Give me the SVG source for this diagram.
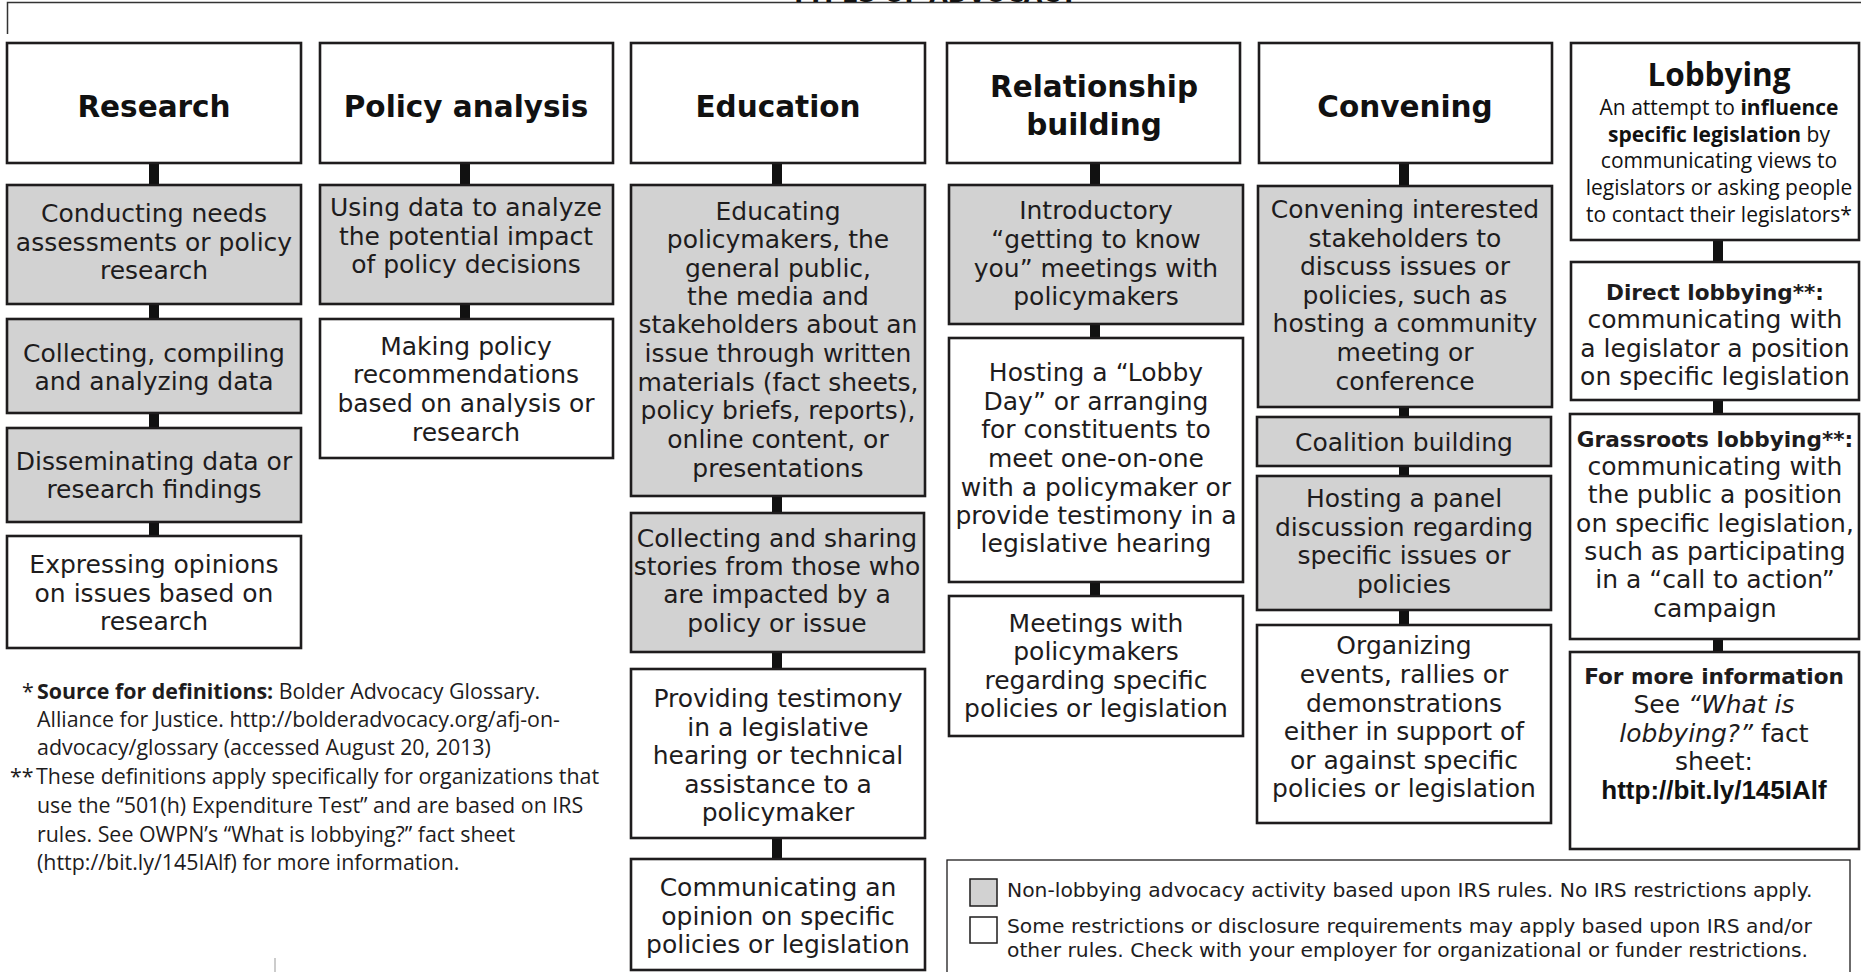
<svg xmlns="http://www.w3.org/2000/svg" width="1861" height="972" viewBox="0 0 1861 972">
<style>
.bx{stroke:#1e1c1d;stroke-width:2.6}
.g{fill:#d2d2d2}
.w{fill:#ffffff}
.t{font-family:"DejaVu Sans",sans-serif;font-size:25px;text-anchor:middle;fill:#1e1c1d}
.h{font-family:"DejaVu Sans",sans-serif;font-size:29.5px;font-weight:bold;text-anchor:middle;fill:#111}
.bd{font-weight:bold;font-size:21.6px}
.my{font-family:"Open Sans",sans-serif;font-size:21px;text-anchor:middle;fill:#111}
.myh{font-family:"Open Sans",sans-serif;font-size:31.5px;font-weight:bold;text-anchor:middle;fill:#111}
.fn{font-family:"Open Sans",sans-serif;font-size:21.4px;fill:#1e1c1d}
.lg{font-family:"DejaVu Sans",sans-serif;font-size:20.3px;fill:#1e1c1d}
.cn{fill:#111}
</style>
<g id="frame">
<path d="M7.5,34 V2.5 H1861" fill="none" stroke="#333" stroke-width="1.5"/>
<text x="934" y="1.5" font-family="DejaVu Sans, sans-serif" font-size="24" font-weight="bold" text-anchor="middle" fill="#111">TYPES OF ADVOCACY</text>
<line x1="275" y1="958" x2="275" y2="972" stroke="#999" stroke-width="1"/>
</g>
<g id="connectors">
<rect class="cn" x="149" y="163" width="10" height="22"/>
<rect class="cn" x="149" y="304" width="10" height="15"/>
<rect class="cn" x="149" y="413" width="10" height="15"/>
<rect class="cn" x="149" y="522" width="10" height="14"/>
<rect class="cn" x="460" y="163" width="10" height="22"/>
<rect class="cn" x="460" y="304" width="10" height="15"/>
<rect class="cn" x="772" y="163" width="10" height="22"/>
<rect class="cn" x="772" y="496" width="10" height="17"/>
<rect class="cn" x="772" y="652" width="10" height="17"/>
<rect class="cn" x="772" y="838" width="10" height="21"/>
<rect class="cn" x="1090" y="163" width="10" height="22"/>
<rect class="cn" x="1090" y="324" width="10" height="14"/>
<rect class="cn" x="1090" y="582" width="10" height="14"/>
<rect class="cn" x="1399" y="163" width="10" height="23"/>
<rect class="cn" x="1399" y="407" width="10" height="10"/>
<rect class="cn" x="1399" y="466" width="10" height="10"/>
<rect class="cn" x="1399" y="610" width="10" height="15"/>
<rect class="cn" x="1713" y="240" width="10" height="22"/>
<rect class="cn" x="1713" y="400" width="10" height="14"/>
<rect class="cn" x="1713" y="639" width="10" height="13"/>
</g>
<g id="research">
<rect class="bx w" x="7" y="43" width="294" height="120"/>
<text class="h" x="154" y="117">Research</text>
</g>
<g id="research-1">
<rect class="bx g" x="7" y="185" width="294" height="119"/>
<text class="t"><tspan x="154" y="222">Conducting needs</tspan><tspan x="154" y="251">assessments or policy</tspan><tspan x="154" y="279">research</tspan></text>
</g>
<g id="research-2">
<rect class="bx g" x="7" y="319" width="294" height="94"/>
<text class="t"><tspan x="154" y="362">Collecting, compiling</tspan><tspan x="154" y="390">and analyzing data</tspan></text>
</g>
<g id="research-3">
<rect class="bx g" x="7" y="428" width="294" height="94"/>
<text class="t"><tspan x="154" y="470">Disseminating data or</tspan><tspan x="154" y="498">research findings</tspan></text>
</g>
<g id="research-4">
<rect class="bx w" x="7" y="536" width="294" height="112"/>
<text class="t"><tspan x="154" y="573">Expressing opinions</tspan><tspan x="154" y="602">on issues based on</tspan><tspan x="154" y="630">research</tspan></text>
</g>
<g id="policy">
<rect class="bx w" x="320" y="43" width="293" height="120"/>
<text class="h" x="466" y="117">Policy analysis</text>
</g>
<g id="policy-1">
<rect class="bx g" x="320" y="185" width="293" height="119"/>
<text class="t"><tspan x="466" y="216">Using data to analyze</tspan><tspan x="466" y="245">the potential impact</tspan><tspan x="466" y="273">of policy decisions</tspan></text>
</g>
<g id="policy-2">
<rect class="bx w" x="320" y="319" width="293" height="139"/>
<text class="t"><tspan x="466" y="355">Making policy</tspan><tspan x="466" y="383">recommendations</tspan><tspan x="466" y="412">based on analysis or</tspan><tspan x="466" y="441">research</tspan></text>
</g>
<g id="education">
<rect class="bx w" x="631" y="43" width="294" height="120"/>
<text class="h" x="778" y="117">Education</text>
</g>
<g id="education-1">
<rect class="bx g" x="631" y="185" width="294" height="311"/>
<text class="t"><tspan x="778" y="220">Educating</tspan><tspan x="778" y="248">policymakers, the</tspan><tspan x="778" y="277">general public,</tspan><tspan x="778" y="305">the media and</tspan><tspan x="778" y="333">stakeholders about an</tspan><tspan x="778" y="362">issue through written</tspan><tspan x="778" y="391">materials (fact sheets,</tspan><tspan x="778" y="419">policy briefs, reports),</tspan><tspan x="778" y="448">online content, or</tspan><tspan x="778" y="477">presentations</tspan></text>
</g>
<g id="education-2">
<rect class="bx g" x="631" y="513" width="293" height="139"/>
<text class="t"><tspan x="777" y="547">Collecting and sharing</tspan><tspan x="777" y="575">stories from those who</tspan><tspan x="777" y="603">are impacted by a</tspan><tspan x="777" y="632">policy or issue</tspan></text>
</g>
<g id="education-3">
<rect class="bx w" x="631" y="669" width="294" height="169"/>
<text class="t"><tspan x="778" y="707">Providing testimony</tspan><tspan x="778" y="736">in a legislative</tspan><tspan x="778" y="764">hearing or technical</tspan><tspan x="778" y="793">assistance to a</tspan><tspan x="778" y="821">policymaker</tspan></text>
</g>
<g id="education-4">
<rect class="bx w" x="631" y="859" width="294" height="111"/>
<text class="t"><tspan x="778" y="896">Communicating an</tspan><tspan x="778" y="925">opinion on specific</tspan><tspan x="778" y="953">policies or legislation</tspan></text>
</g>
<g id="relationship">
<rect class="bx w" x="947" y="43" width="293" height="120"/>
<text class="h"><tspan x="1094" y="97">Relationship</tspan><tspan x="1094" y="135">building</tspan></text>
</g>
<g id="relationship-1">
<rect class="bx g" x="949" y="185" width="294" height="139"/>
<text class="t"><tspan x="1096" y="219">Introductory</tspan><tspan x="1096" y="248">“getting to know</tspan><tspan x="1096" y="277">you” meetings with</tspan><tspan x="1096" y="305">policymakers</tspan></text>
</g>
<g id="relationship-2">
<rect class="bx w" x="949" y="338" width="294" height="244"/>
<text class="t"><tspan x="1096" y="381">Hosting a “Lobby</tspan><tspan x="1096" y="410">Day” or arranging</tspan><tspan x="1096" y="438">for constituents to</tspan><tspan x="1096" y="467">meet one-on-one</tspan><tspan x="1096" y="496">with a policymaker or</tspan><tspan x="1096" y="524">provide testimony in a</tspan><tspan x="1096" y="552">legislative hearing</tspan></text>
</g>
<g id="relationship-3">
<rect class="bx w" x="949" y="596" width="294" height="140"/>
<text class="t"><tspan x="1096" y="632">Meetings with</tspan><tspan x="1096" y="660">policymakers</tspan><tspan x="1096" y="689">regarding specific</tspan><tspan x="1096" y="717">policies or legislation</tspan></text>
</g>
<g id="convening">
<rect class="bx w" x="1259" y="43" width="293" height="120"/>
<text class="h" x="1405" y="117">Convening</text>
</g>
<g id="convening-1">
<rect class="bx g" x="1258" y="186" width="294" height="221"/>
<text class="t"><tspan x="1405" y="218">Convening interested</tspan><tspan x="1405" y="247">stakeholders to</tspan><tspan x="1405" y="275">discuss issues or</tspan><tspan x="1405" y="304">policies, such as</tspan><tspan x="1405" y="332">hosting a community</tspan><tspan x="1405" y="361">meeting or</tspan><tspan x="1405" y="390">conference</tspan></text>
</g>
<g id="convening-2">
<rect class="bx g" x="1257" y="417" width="294" height="49"/>
<text class="t" x="1404" y="451">Coalition building</text>
</g>
<g id="convening-3">
<rect class="bx g" x="1257" y="476" width="294" height="134"/>
<text class="t"><tspan x="1404" y="507">Hosting a panel</tspan><tspan x="1404" y="536">discussion regarding</tspan><tspan x="1404" y="564">specific issues or</tspan><tspan x="1404" y="593">policies</tspan></text>
</g>
<g id="convening-4">
<rect class="bx w" x="1257" y="625" width="294" height="198"/>
<text class="t"><tspan x="1404" y="654">Organizing</tspan><tspan x="1404" y="683">events, rallies or</tspan><tspan x="1404" y="712">demonstrations</tspan><tspan x="1404" y="740">either in support of</tspan><tspan x="1404" y="769">or against specific</tspan><tspan x="1404" y="797">policies or legislation</tspan></text>
</g>
<g id="lobbying">
<rect class="bx w" x="1571" y="43" width="288" height="197"/>
<text class="myh" x="1719" y="86">Lobbying</text>
<text class="my"><tspan x="1719" y="115">An attempt to <tspan font-weight="bold">influence</tspan></tspan><tspan x="1719" y="142"><tspan font-weight="bold">specific legislation</tspan> by</tspan><tspan x="1719" y="168">communicating views to</tspan><tspan x="1719" y="195">legislators or asking people</tspan><tspan x="1719" y="222">to contact their legislators*</tspan></text>
</g>
<g id="lobbying-direct">
<rect class="bx w" x="1571" y="262" width="288" height="138"/>
<text class="t"><tspan x="1715" y="300" class="bd">Direct lobbying**:</tspan><tspan x="1715" y="328">communicating with</tspan><tspan x="1715" y="357">a legislator a position</tspan><tspan x="1715" y="385">on specific legislation</tspan></text>
</g>
<g id="lobbying-grassroots">
<rect class="bx w" x="1570" y="414" width="289" height="225"/>
<text class="t"><tspan x="1715" y="447" class="bd">Grassroots lobbying**:</tspan><tspan x="1715" y="475">communicating with</tspan><tspan x="1715" y="503">the public a position</tspan><tspan x="1715" y="532">on specific legislation,</tspan><tspan x="1715" y="560">such as participating</tspan><tspan x="1715" y="588">in a “call to action”</tspan><tspan x="1715" y="617">campaign</tspan></text>
</g>
<g id="lobbying-info">
<rect class="bx w" x="1570" y="652" width="289" height="197"/>
<text class="t"><tspan x="1714" y="684" class="bd">For more information</tspan><tspan x="1714" y="713">See <tspan font-style="italic">“What is</tspan></tspan><tspan x="1714" y="742"><tspan font-style="italic">lobbying?”</tspan> fact</tspan><tspan x="1714" y="770">sheet:</tspan></text>
<text x="1714" y="799" font-family="Liberation Sans, Arial, sans-serif" font-size="26" font-weight="bold" text-anchor="middle" fill="#111">http://bit.ly/145IAlf</text>
</g>
<g id="footnotes">
<text class="fn" x="22" y="699">*</text>
<text class="fn" x="37" y="699"><tspan font-weight="bold">Source for definitions:</tspan> Bolder Advocacy Glossary.</text>
<text class="fn" x="37" y="727">Alliance for Justice. http://bolderadvocacy.org/afj-on-</text>
<text class="fn" x="37" y="755">advocacy/glossary (accessed August 20, 2013)</text>
<text class="fn" x="10" y="784">**</text>
<text class="fn" x="36" y="784">These definitions apply specifically for organizations that</text>
<text class="fn" x="37" y="813">use the “501(h) Expenditure Test” and are based on IRS</text>
<text class="fn" x="37" y="842">rules. See OWPN’s “What is lobbying?” fact sheet</text>
<text class="fn" x="37" y="870">(http://bit.ly/145IAlf) for more information.</text>
</g>
<g id="legend">
<rect x="947" y="860" width="903" height="130" fill="#fff" stroke="#1e1c1d" stroke-width="1.3"/>
<rect x="970" y="879" width="27" height="27" fill="#d2d2d2" stroke="#1e1c1d" stroke-width="1.5"/>
<rect x="970" y="917" width="27" height="26" fill="#fff" stroke="#1e1c1d" stroke-width="1.5"/>
<text class="lg" x="1007" y="897">Non-lobbying advocacy activity based upon IRS rules. No IRS restrictions apply.</text>
<text class="lg" x="1007" y="933">Some restrictions or disclosure requirements may apply based upon IRS and/or</text>
<text class="lg" x="1007" y="957">other rules. Check with your employer for organizational or funder restrictions.</text>
</g>
</svg>
